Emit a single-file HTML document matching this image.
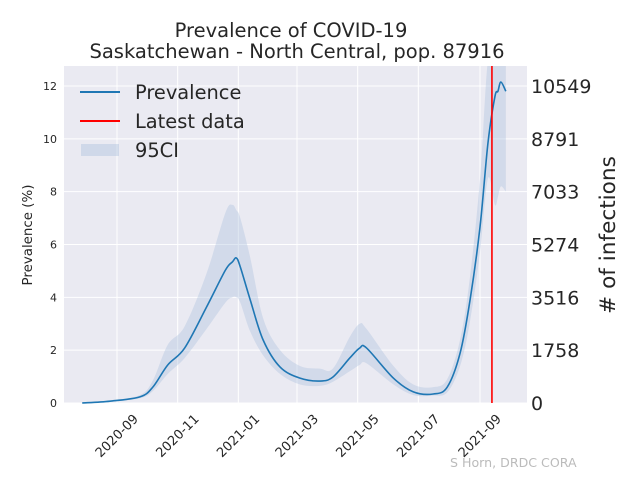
<!DOCTYPE html>
<html><head><meta charset="utf-8"><style>
body{margin:0;background:#fff;width:640px;height:480px;overflow:hidden}
svg text{font-family:"DejaVu Sans","Liberation Sans",sans-serif}
</style></head><body>
<svg id="c" width="640" height="480" xmlns="http://www.w3.org/2000/svg"></svg>
<script>
const dates=["2020-07-28","2020-08-25","2020-09-24","2020-10-07","2020-10-22","2020-11-08","2020-11-30","2020-12-19","2020-12-26","2020-12-30","2021-01-03","2021-01-13","2021-01-26","2021-02-12","2021-03-04","2021-03-24","2021-04-06","2021-04-23","2021-05-03","2021-05-10","2021-06-06","2021-06-26","2021-07-16","2021-07-30","2021-08-12","2021-08-22","2021-09-01","2021-09-09","2021-09-16","2021-09-19","2021-09-22","2021-09-27"];
const mean=[0,0.07,0.23,0.6,1.44,2.08,3.63,5.03,5.34,5.49,5.15,3.9,2.38,1.36,0.94,0.83,0.98,1.7,2.08,2.08,0.94,0.42,0.34,0.6,1.89,3.9,6.66,9.84,11.6,11.8,12.15,11.8];
const lower=[0,0.05,0.18,0.45,1.1,1.7,2.8,3.8,4.0,4.0,3.8,2.7,1.8,1.1,0.7,0.65,0.8,1.2,1.44,1.5,0.7,0.3,0.28,0.4,1.4,3.1,5.7,8.5,7.5,7.8,8.2,8.0];
const upper=[0,0.09,0.3,0.85,2.2,2.9,4.9,7.2,7.5,7.3,7.0,5.5,3.2,2.0,1.4,1.3,1.3,2.5,3.0,2.8,1.4,0.7,0.6,0.9,2.4,4.8,8.5,13,13,13,13,13];
const yTicks=[0,2,4,6,8,10,12];
const rightTicks=["0","1758","3516","5274","7033","8791","10549"];
const xTicks=["2020-09","2020-11","2021-01","2021-03","2021-05","2021-07","2021-09"];
const latest="2021-09-13";

const L=64,R=527,T=66,B=403;
const d0=Date.parse("2020-09-01"),pxd=363/365;
const X=s=>117+(Date.parse(s.length==7?s+"-01":s)-d0)/864e5*pxd;
const Y=v=>B-v*(B-86)/12;
const svg=document.getElementById('c');
const NS="http://www.w3.org/2000/svg";
function el(tag,attrs,parent){const e=document.createElementNS(NS,tag);for(const k in attrs)e.setAttribute(k,attrs[k]);(parent||svg).appendChild(e);return e;}
function curve(pts,start){let d=start?'M'+pts[0][0]+','+pts[0][1]:'L'+pts[0][0]+','+pts[0][1];
  for(let i=0;i<pts.length-1;i++){const p0=pts[Math.max(0,i-1)],p1=pts[i],p2=pts[i+1],p3=pts[Math.min(pts.length-1,i+2)];
    const c1=[p1[0]+(p2[0]-p0[0])/6,p1[1]+(p2[1]-p0[1])/6],c2=[p2[0]-(p3[0]-p1[0])/6,p2[1]-(p3[1]-p1[1])/6];
    d+=`C${c1[0]},${c1[1]} ${c2[0]},${c2[1]} ${p2[0]},${p2[1]}`;}
  return d;}

const defs=el('defs',{});
const cp=el('clipPath',{id:'clip'},defs);el('rect',{x:L,y:T,width:R-L,height:B-T},cp);
const bg=el('rect',{x:L,y:T,width:R-L,height:B-T,fill:'#eaeaf2'});


yTicks.forEach((v,i)=>{
  const g=el('line',{x1:L,x2:R,y1:Y(v),y2:Y(v),stroke:'#fff','stroke-width':1});
  
  
  const t=el('text',{x:L-7,y:Y(v)+4,'text-anchor':'end','font-size':11,fill:'#262626'});t.textContent=v;
  
  
  const r=el('text',{x:R+4,y:Y(v)+7,'font-size':19,fill:'#262626'});r.textContent=rightTicks[i];
  
  
});
xTicks.forEach(s=>{
  const x=X(s);
  const g=el('line',{x1:x,x2:x,y1:T,y2:B,stroke:'#fff','stroke-width':1});
  
  
  const t=el('text',{x:x,y:B+37,'text-anchor':'middle','font-size':13,fill:'#262626',transform:`rotate(-45 ${x} ${B+33})`});t.textContent=s;
  
  
});
const up=dates.map((d,i)=>[X(d),Y(upper[i])]);
const lo=dates.map((d,i)=>[X(d),Y(lower[i])]).reverse();
const band=el('path',{d:curve(up,true)+curve(lo,false)+'Z',fill:'#b0c4de',opacity:0.4,'clip-path':'url(#clip)'});


const line=el('path',{d:curve(dates.map((d,i)=>[X(d),Y(mean[i])]),true),fill:'none',stroke:'#1f77b4','stroke-width':1.6,'stroke-linejoin':'round'});


const lx=X(latest);
const red=el('line',{x1:lx,x2:lx,y1:T,y2:B,stroke:'#ff0000','stroke-width':1.6});



function txt(s,a,name){const t=el('text',a);t.textContent=s;return t;}
txt('Prevalence of COVID-19',{x:291,y:37,'text-anchor':'middle','font-size':19.5,fill:'#262626'},'chart-title');
txt('Saskatchewan - North Central, pop. 87916',{x:297,y:58,'text-anchor':'middle','font-size':19.5,fill:'#262626'},'chart-subtitle');
txt('Prevalence (%)',{x:32,y:235,'text-anchor':'middle','font-size':13.4,fill:'#262626',transform:'rotate(-90 32 235)'},'y-axis-title');
txt('# of infections',{x:615,y:235,'text-anchor':'middle','font-size':21.6,fill:'#262626',transform:'rotate(-90 615 235)'},'right-axis-title');
txt('S Horn, DRDC CORA',{x:450,y:467,'font-size':12.6,fill:'#bbbbbb'},'credit-text');

const lg=[['Prevalence','line','#1f77b4'],['Latest data','line','#ff0000'],['95CI','patch','#b0c4de']];
lg.forEach((e,i)=>{
  const y=92+i*29;
  const g=el('g',{});
  
  
  if(e[1]=='line')el('line',{x1:80,x2:120,y1:y,y2:y,stroke:e[2],'stroke-width':2},g);
  else el('rect',{x:81,y:y-6,width:38,height:12,fill:e[2],opacity:0.45},g);
  const t=el('text',{x:135,y:y+7,'font-size':19.4,fill:'#262626'},g);t.textContent=e[0];
});
</script>
</body></html>
